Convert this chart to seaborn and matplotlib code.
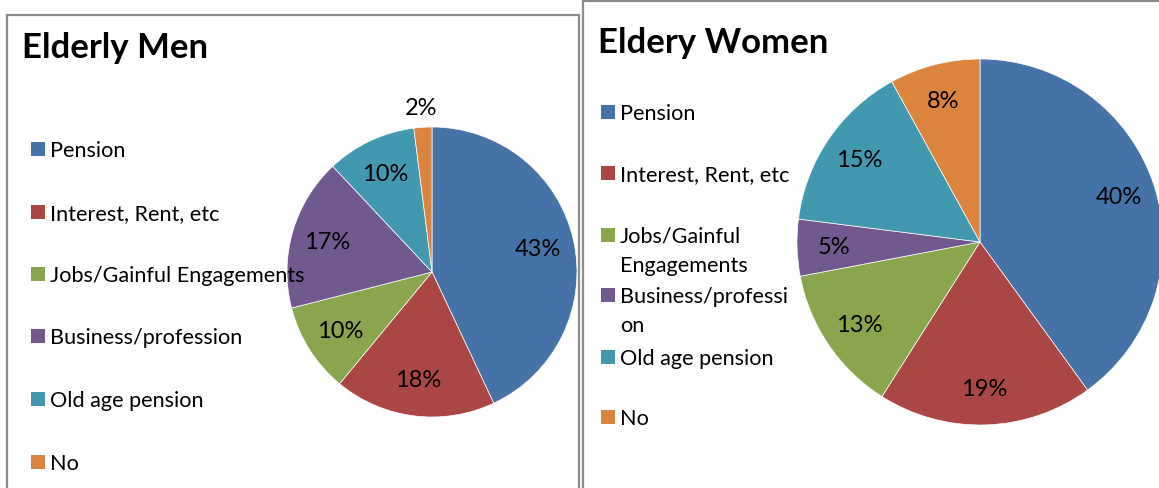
import numpy as np
import matplotlib
matplotlib.use('Agg')
import matplotlib.pyplot as plt
from matplotlib.patches import Rectangle
import seaborn as sns

sns.set_theme(style='white')
plt.rcParams['font.family'] = ['Lato', 'DejaVu Sans']
plt.rcParams['text.color'] = 'black'

# data
categories = ['Pension', 'Interest, Rent, etc', 'Jobs/Gainful Engagements',
              'Business/profession', 'Old age pension', 'No']
men_share = [43, 18, 10, 17, 10, 2]
women_share = [40, 19, 13, 5, 15, 8]
women_legend = ['Pension', 'Interest, Rent, etc', 'Jobs/Gainful\nEngagements',
                'Business/professi\non', 'Old age pension', 'No']
palette = ['#4572A7', '#AA4643', '#89A54E', '#71588F', '#4198AF', '#DB843D']

W, H = 1159, 489
fig = plt.figure(figsize=(W / 100, H / 100), dpi=100)
fig.patch.set_facecolor('white')


def fx(x):
    return x / W


def fy(y):
    return 1 - y / H


def panel_border(x0, y0, x1):
    fig.patches.append(Rectangle((fx(x0), -0.1), fx(x1) - fx(x0), fy(y0) + 0.1,
                                 transform=fig.transFigure, fill=False,
                                 edgecolor='#8c8c8c', linewidth=1.6))


def draw_pie(cx, cy, r, values, pctdist):
    ax = fig.add_axes([fx(cx - r), fy(cy + r), 2 * r / W, 2 * r / H])
    wedges, _, autotexts = ax.pie(
        values, colors=palette, startangle=90, counterclock=False,
        autopct='%.0f%%', pctdistance=pctdist,
        wedgeprops=dict(edgecolor='white', linewidth=0.5),
        textprops=dict(fontsize=17, color='black'))
    # tiny slices get their label outside, like Excel's best fit
    for w, t, v in zip(wedges, autotexts, values):
        if v < 3:
            ang = np.deg2rad((w.theta1 + w.theta2) / 2)
            t.set_position((1.14 * np.cos(ang), 1.14 * np.sin(ang)))
    ax.set_xlim(-1, 1)
    ax.set_ylim(-1, 1)
    ax.set_aspect('equal')
    ax.axis('off')
    return ax


def draw_legend(x, baselines, labels):
    for yb, lab, col in zip(baselines, labels, palette):
        fig.patches.append(Rectangle((fx(x), fy(yb)), 14 / W, 14 / H,
                                     transform=fig.transFigure,
                                     facecolor=col, edgecolor='none'))
        # wrapped labels: one text per line, 29 px apart
        for i, line in enumerate(lab.split('\n')):
            fig.text(fx(x + 19), fy(yb + 29 * i), line, fontsize=15.6,
                     color='black', va='baseline', ha='left')


# panels
panel_border(7, 16, 579)
panel_border(583, 2, 1170)

fig.text(fx(22), fy(58), 'Elderly Men', fontsize=25, fontweight='bold',
         color='black', va='baseline')
fig.text(fx(598), fy(53), 'Eldery Women', fontsize=25, fontweight='bold',
         color='black', va='baseline')

draw_pie(432, 273, 145, men_share, 0.75)
draw_pie(980, 243, 183, women_share, 0.8)

draw_legend(31, [157, 220, 282, 344, 407, 470], categories)
draw_legend(601, [120, 181, 243, 303, 365, 425], women_legend)

fig.savefig('out.png', dpi=100, facecolor='white')
